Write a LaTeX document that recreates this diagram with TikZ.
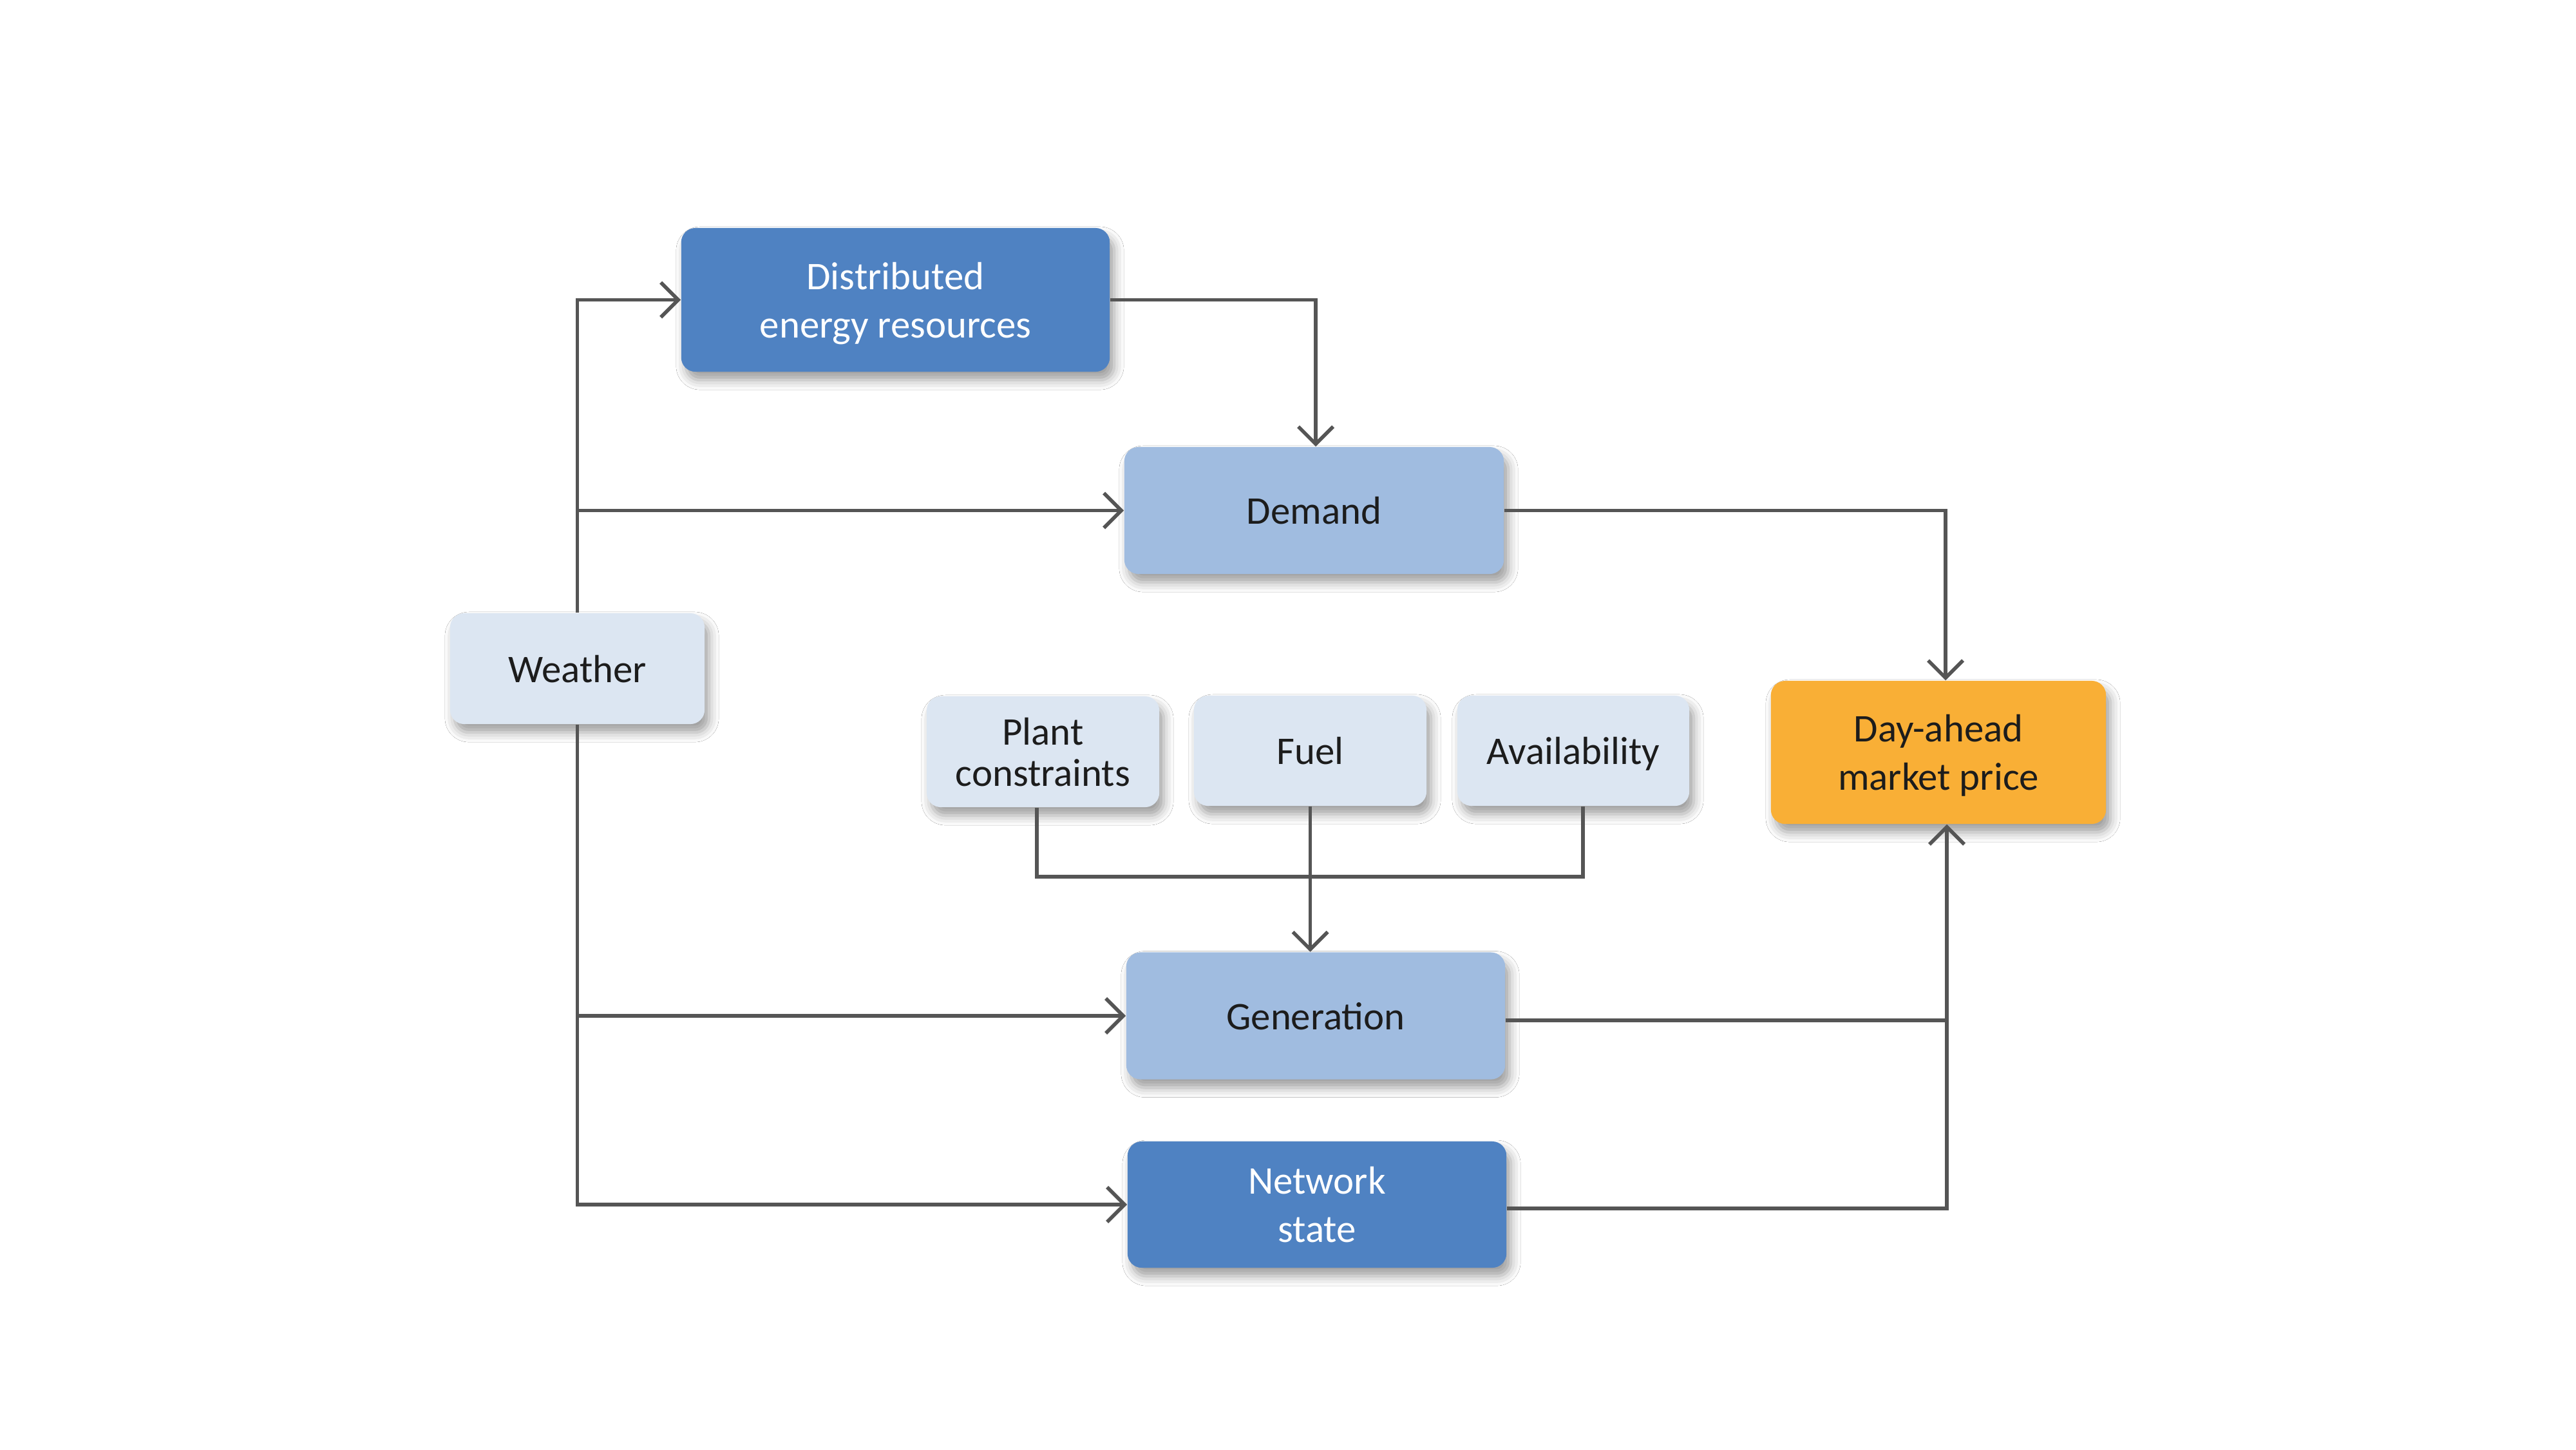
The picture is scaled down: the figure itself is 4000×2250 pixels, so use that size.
\documentclass[tikz,border=0pt]{standalone}
\usepackage{fontspec}
\setmainfont{Carlito}
\usetikzlibrary{arrows.meta,shadows.blur,calc}
\definecolor{darkblue}{HTML}{4F82C2}
\definecolor{midblue}{HTML}{A0BCE0}
\definecolor{paleblue}{HTML}{DCE6F2}
\definecolor{orangebox}{HTML}{F9AF36}
\definecolor{linegray}{HTML}{555555}
\definecolor{txtdark}{HTML}{1C1C1C}
\tikzset{
  box/.style={rectangle, rounded corners=0.22cm, inner sep=0pt, align=center,
    text depth=0pt,
    font=\fontsize{17.3}{21.3}\selectfont, text=txtdark,
    blur shadow={shadow xshift=0.07cm, shadow yshift=-0.13cm, shadow blur radius=0.15cm, shadow opacity=38}},
  darkbox/.style={box, fill=darkblue, text=white},
  midbox/.style={box, fill=midblue},
  palebox/.style={box, fill=paleblue},
  orangebx/.style={box, fill=orangebox},
  conn/.style={draw=linegray, line width=1.6pt, -{Straight Barb[length=0.27cm,width=0.54cm,line width=1.6pt]}},
  plainline/.style={draw=linegray, line width=1.6pt}
}
\begin{document}
\begin{tikzpicture}[x=0.01cm,y=-0.01cm]
\useasboundingbox (0,0) rectangle (4000,2250);
\fill[white] (0,0) rectangle (4000,2250);

\node[darkbox, minimum width=6.65cm, minimum height=2.23cm] (der) at (1390.5,465.5) {Distributed\\energy resources};
\node[midbox, minimum width=5.89cm, minimum height=1.97cm] (demand) at (2040.5,792.5) {Demand};
\node[palebox, minimum width=3.95cm, minimum height=1.72cm] (weather) at (896.5,1038) {Weather};
\node[palebox, minimum width=3.61cm, minimum height=1.72cm, font=\fontsize{17.3}{18.2}\selectfont] (plant) at (1619.5,1167) {Plant\\constraints};
\node[palebox, minimum width=3.61cm, minimum height=1.71cm] (fuel) at (2034.5,1165.5) {Fuel};
\node[palebox, minimum width=3.60cm, minimum height=1.71cm] (avail) at (2443,1165.5) {Availability};
\node[orangebx, minimum width=5.20cm, minimum height=2.22cm] (price) at (3010,1168) {Day-ahead\\market price};
\node[midbox, minimum width=5.88cm, minimum height=1.97cm] (gen) at (2043,1577) {Generation};
\node[darkbox, minimum width=5.88cm, minimum height=1.96cm] (net) at (2045,1870) {Network\\state};

\coordinate (ptop) at ([xshift=0.11cm]price.north);
\coordinate (pbot) at ([xshift=0.13cm]price.south);
\coordinate (plantout) at ([xshift=-0.095cm]plant.south);
\coordinate (availout) at ([xshift=0.15cm]avail.south);
\coordinate (genout) at ([yshift=-0.07cm]gen.east);
\coordinate (netout) at ([yshift=-0.06cm]net.east);
\coordinate (dtop) at ([xshift=0.025cm]demand.north);
\coordinate (join) at (plantout |- 0,1361);

% Weather to DER, Demand
\draw[conn] (weather.north) |- (der.west);
\draw[conn] (weather.north |- demand.west) -- (demand.west);
% DER to Demand
\draw[conn] (der.east) -| (dtop);
% Demand to price
\draw[conn] (demand.east) -| (ptop);
% Weather to Generation, Network
\draw[conn] (weather.south) |- (net.west);
\draw[conn] (weather.south |- gen.west) -- (gen.west);
% Plant / Availability bus
\draw[plainline] (plantout) -- (join) -| (availout);
\draw[conn] (fuel.south) -- (fuel.south |- gen.north);
% Generation and Network to price
\draw[plainline] (genout) -- (pbot |- genout);
\draw[conn] (netout) -| (pbot);
\end{tikzpicture}
\end{document}
